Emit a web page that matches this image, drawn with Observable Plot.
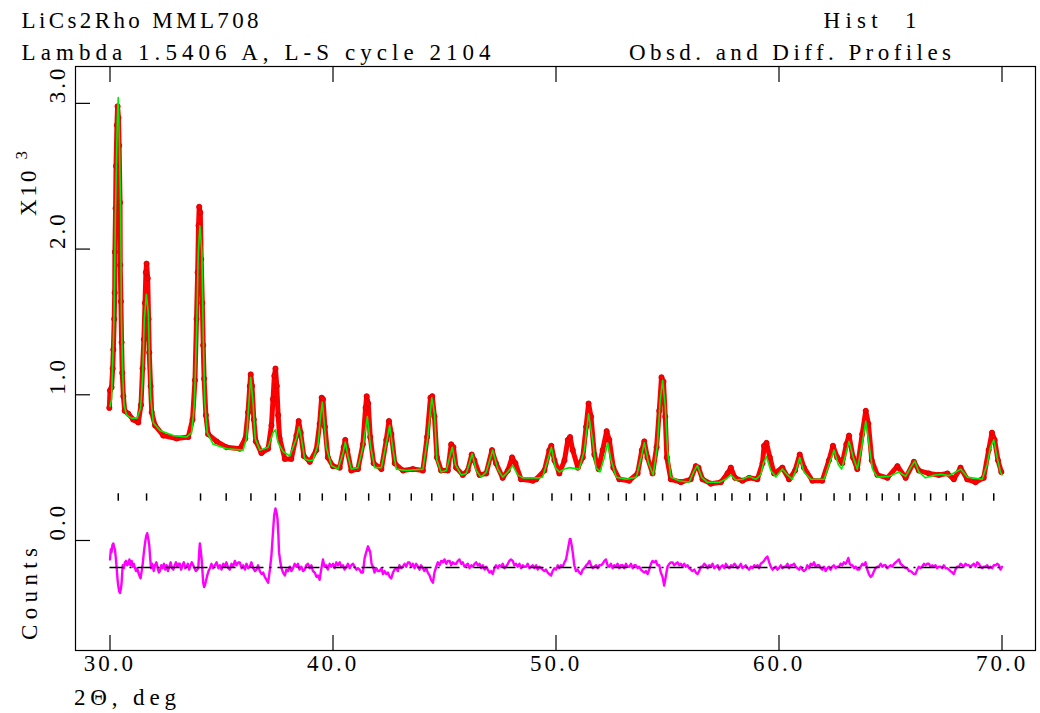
<!DOCTYPE html>
<html><head><meta charset="utf-8">
<script src="https://cdn.jsdelivr.net/npm/d3@7"></script>
<script src="https://cdn.jsdelivr.net/npm/@observablehq/plot@0.6"></script>
<style>
html,body{margin:0;padding:0;background:#fff;}
#chart svg text{letter-spacing:3px;}
</style></head><body><div id="chart"></div>
<script>
// ---- texts ----
const titleLeft = ["LiCs2Rho MML708", "Lambda 1.5406 A, L-S cycle 2104"];
const titleRight = ["Hist  1", "Obsd. and Diff. Profiles"];
const xTitle = "2\u0398, deg";
const yTitleMain = "X10";
const yTitleExp = "3";
const yTitleLow = "Counts";

// ---- axis ticks ----
const xTicks = [30, 40, 50, 60, 70];
const yTicks = [0, 1, 2, 3];

// ---- difference-curve baseline (x10^3 counts) ----
const diffBase = -0.185;

// ---- reflection positions (deg 2theta) ----
const reflections = [30.37, 31.64, 34.06, 35.21, 36.32, 37.42, 38.51, 39.52, 40.57, 41.60, 42.54, 43.51,
  44.43, 45.41, 46.27, 47.18, 48.09, 49.82, 50.69, 51.50, 52.35, 53.15, 53.97, 54.78, 55.58, 56.33,
  57.14, 57.89, 58.69, 59.46, 60.23, 60.98, 62.47, 63.18, 63.93, 64.63, 65.38, 66.09, 66.80, 67.50,
  68.25, 69.63];

// ---- calculated profile [2theta, counts x10^3] ----
const calcPts = [
 [30.00,0.92],[30.07,0.97],[30.18,1.52],[30.24,2.21],[30.33,2.90],[30.37,3.04],[30.43,2.67],[30.48,2.23],
 [30.51,1.54],[30.57,1.13],[30.63,0.93],[30.75,0.86],[30.97,0.84],[31.22,0.84],[31.37,0.91],[31.46,1.11],
 [31.54,1.52],[31.63,1.69],[31.72,1.56],[31.76,1.29],[31.82,0.99],[31.94,0.81],[32.24,0.755],[32.84,0.72],
 [33.43,0.71],[33.66,0.74],[33.78,0.93],[33.88,1.41],[33.96,1.98],[34.03,2.16],[34.12,1.98],[34.18,1.41],
 [34.25,0.95],[34.36,0.74],[34.63,0.66],[35.23,0.63],[35.97,0.62],[36.12,0.70],[36.22,0.93],[36.31,1.12],
 [36.42,0.93],[36.51,0.70],[36.72,0.62],[37.09,0.64],[37.31,0.74],[37.42,0.76],[37.54,0.67],[37.76,0.61],
 [38.06,0.58],[38.36,0.70],[38.48,0.78],[38.58,0.70],[38.73,0.56],[38.90,0.55],[39.10,0.55],[39.33,0.66],
 [39.44,0.85],[39.52,0.95],[39.60,0.82],[39.70,0.64],[39.93,0.515],[40.22,0.49],[40.45,0.60],[40.55,0.675],
 [40.67,0.58],[40.82,0.49],[41.12,0.50],[41.34,0.64],[41.54,0.85],[41.69,0.64],[41.87,0.50],[42.17,0.50],
 [42.42,0.69],[42.54,0.79],[42.69,0.62],[42.84,0.49],[43.29,0.48],[44.03,0.49],[44.25,0.71],[44.43,0.98],
 [44.55,0.87],[44.66,0.55],[44.85,0.47],[45.08,0.48],[45.23,0.57],[45.35,0.64],[45.49,0.52],[45.75,0.45],
 [45.97,0.46],[46.12,0.53],[46.24,0.595],[46.42,0.48],[46.64,0.435],[46.87,0.47],[47.16,0.62],[47.39,0.49],
 [47.61,0.435],[47.84,0.47],[48.06,0.515],[48.28,0.45],[48.51,0.43],[49.26,0.43],[49.40,0.435],[49.63,0.55],
 [49.79,0.64],[49.97,0.50],[50.15,0.47],[50.38,0.49],[50.60,0.50],[51.04,0.49],[51.27,0.62],[51.46,0.87],
 [51.64,0.69],[51.79,0.50],[51.97,0.47],[52.17,0.57],[52.32,0.67],[52.47,0.55],[52.70,0.435],[53.15,0.42],
 [53.60,0.435],[53.82,0.57],[53.96,0.67],[54.15,0.53],[54.36,0.45],[54.55,0.66],[54.67,0.96],[54.78,1.10],
 [54.90,0.92],[55.00,0.62],[55.15,0.435],[55.52,0.41],[55.97,0.40],[56.20,0.48],[56.34,0.515],[56.53,0.435],
 [56.78,0.40],[57.31,0.40],[57.61,0.42],[57.84,0.45],[58.06,0.415],[58.36,0.42],[58.66,0.44],[58.96,0.42],
 [59.18,0.45],[59.30,0.53],[59.44,0.575],[59.63,0.48],[59.86,0.435],[60.15,0.49],[60.38,0.45],[60.60,0.42],
 [60.78,0.49],[60.93,0.57],[61.12,0.47],[61.42,0.42],[62.02,0.42],[62.24,0.52],[62.47,0.62],[62.66,0.52],
 [62.81,0.49],[62.99,0.59],[63.14,0.68],[63.33,0.57],[63.51,0.49],[63.73,0.66],[63.89,0.82],[64.04,0.66],
 [64.19,0.49],[64.41,0.435],[64.94,0.44],[65.38,0.47],[65.68,0.44],[65.90,0.50],[66.09,0.545],[66.27,0.47],
 [66.57,0.43],[66.87,0.445],[67.25,0.455],[67.62,0.445],[67.92,0.47],[68.15,0.49],[68.44,0.435],[69.11,0.42],
 [69.33,0.52],[69.48,0.64],[69.63,0.69],[69.78,0.57],[69.93,0.47],[70.00,0.45]
];

// ---- observed profile [2theta, counts x10^3] ----
const obsPts = [
 [29.97,0.91],[30.00,1.03],[30.07,1.05],[30.12,1.18],[30.15,1.31],[30.19,1.52],[30.21,1.70],[30.22,1.98],
 [30.25,2.28],[30.27,2.57],[30.31,2.85],[30.34,2.98],[30.38,2.90],[30.41,2.71],[30.45,2.32],[30.46,1.89],
 [30.49,1.64],[30.52,1.36],[30.55,1.15],[30.60,0.99],[30.66,0.89],[30.82,0.87],[31.04,0.83],[31.27,0.81],
 [31.39,0.93],[31.46,1.18],[31.52,1.38],[31.57,1.63],[31.61,1.84],[31.64,1.90],[31.69,1.80],[31.73,1.52],
 [31.76,1.29],[31.82,1.06],[31.87,0.88],[32.02,0.79],[32.39,0.72],[32.99,0.70],[33.51,0.71],[33.70,0.83],
 [33.81,1.10],[33.88,1.52],[33.93,1.84],[33.97,2.16],[34.00,2.29],[34.05,2.25],[34.09,1.93],[34.14,1.63],
 [34.18,1.34],[34.22,1.11],[34.30,0.86],[34.40,0.73],[34.78,0.68],[35.23,0.64],[35.82,0.63],[36.07,0.70],
 [36.19,0.88],[36.27,1.06],[36.31,1.14],[36.37,1.06],[36.45,0.83],[36.54,0.68],[36.79,0.60],[37.09,0.63],
 [37.24,0.79],[37.31,0.97],[37.37,1.13],[37.42,1.18],[37.48,1.06],[37.54,0.86],[37.61,0.70],[37.84,0.56],
 [38.13,0.56],[38.36,0.72],[38.46,0.82],[38.55,0.74],[38.69,0.58],[38.96,0.54],[39.25,0.62],[39.40,0.80],
 [39.49,0.98],[39.55,0.97],[39.64,0.78],[39.77,0.57],[40.00,0.51],[40.30,0.50],[40.48,0.64],[40.55,0.69],
 [40.64,0.62],[40.82,0.48],[41.12,0.49],[41.34,0.66],[41.46,0.91],[41.51,0.99],[41.58,0.94],[41.67,0.71],
 [41.82,0.53],[42.17,0.49],[42.39,0.69],[42.51,0.82],[42.62,0.73],[42.77,0.53],[43.14,0.48],[43.58,0.49],
 [44.03,0.48],[44.22,0.71],[44.37,0.98],[44.45,0.99],[44.55,0.85],[44.66,0.57],[44.85,0.48],[45.15,0.48],
 [45.30,0.66],[45.40,0.64],[45.52,0.50],[45.82,0.45],[46.04,0.48],[46.22,0.59],[46.34,0.55],[46.57,0.45],
 [46.87,0.46],[47.13,0.62],[47.31,0.53],[47.61,0.43],[47.84,0.48],[48.03,0.57],[48.18,0.53],[48.43,0.42],
 [48.96,0.41],[49.11,0.42],[49.48,0.48],[49.70,0.62],[49.79,0.65],[49.93,0.55],[50.15,0.46],[50.38,0.55],
 [50.53,0.69],[50.63,0.71],[50.75,0.62],[50.98,0.50],[51.20,0.57],[51.35,0.78],[51.46,0.94],[51.57,0.85],
 [51.72,0.59],[51.91,0.49],[52.09,0.62],[52.27,0.75],[52.39,0.69],[52.57,0.50],[52.84,0.42],[53.28,0.41],
 [53.66,0.46],[53.85,0.62],[53.96,0.68],[54.10,0.57],[54.33,0.46],[54.51,0.64],[54.63,0.89],[54.73,1.12],
 [54.82,1.09],[54.90,0.85],[54.97,0.57],[55.15,0.42],[55.60,0.40],[56.04,0.42],[56.27,0.51],[56.39,0.50],
 [56.57,0.42],[56.94,0.39],[57.39,0.40],[57.69,0.46],[57.84,0.50],[58.03,0.43],[58.36,0.41],[58.66,0.43],
 [59.03,0.42],[59.26,0.53],[59.33,0.65],[59.44,0.67],[59.59,0.57],[59.78,0.46],[60.15,0.50],[60.45,0.42],
 [60.72,0.48],[60.93,0.59],[61.12,0.50],[61.50,0.41],[61.94,0.41],[62.24,0.55],[62.42,0.65],[62.61,0.57],
 [62.84,0.53],[63.02,0.66],[63.14,0.72],[63.32,0.57],[63.51,0.49],[63.73,0.73],[63.89,0.89],[64.01,0.80],
 [64.16,0.55],[64.41,0.45],[64.86,0.43],[65.31,0.51],[65.68,0.43],[66.05,0.54],[66.27,0.48],[66.72,0.46],
 [67.17,0.45],[67.55,0.46],[67.84,0.42],[68.14,0.50],[68.44,0.42],[68.81,0.40],[69.18,0.43],[69.40,0.62],
 [69.55,0.74],[69.67,0.69],[69.82,0.55],[69.97,0.47]
];

// ---- difference curve [2theta, counts x10^3] ----
const diffPts = [
 [30.00,-0.13],[30.04,-0.06],[30.07,-0.08],[30.11,-0.03],[30.15,-0.02],[30.19,-0.05],[30.22,-0.06],[30.26,-0.12],
 [30.30,-0.19],[30.34,-0.27],[30.37,-0.31],[30.41,-0.35],[30.45,-0.36],[30.49,-0.33],[30.52,-0.29],[30.57,-0.17],
 [30.62,-0.19],[30.67,-0.15],[30.72,-0.14],[30.77,-0.17],[30.82,-0.16],[30.87,-0.13],[30.92,-0.17],[30.97,-0.14],
 [31.02,-0.18],[31.07,-0.16],[31.12,-0.19],[31.17,-0.21],[31.22,-0.19],[31.27,-0.22],[31.32,-0.24],[31.37,-0.26],
 [31.42,-0.21],[31.46,-0.17],[31.52,-0.08],[31.57,-0.02],[31.62,0.03],[31.67,0.05],[31.72,0.01],[31.76,-0.03],
 [31.80,-0.12],[31.84,-0.19],[31.90,-0.16],[31.96,-0.21],[32.02,-0.17],[32.08,-0.15],[32.14,-0.19],[32.19,-0.22],
 [32.24,-0.21],[32.30,-0.17],[32.36,-0.19],[32.42,-0.16],[32.48,-0.20],[32.54,-0.17],[32.60,-0.21],[32.66,-0.18],
 [32.72,-0.15],[32.78,-0.19],[32.84,-0.20],[32.90,-0.17],[32.96,-0.15],[33.02,-0.18],[33.08,-0.16],[33.13,-0.16],
 [33.19,-0.20],[33.25,-0.17],[33.31,-0.15],[33.37,-0.19],[33.43,-0.18],[33.49,-0.16],[33.55,-0.20],[33.61,-0.17],
 [33.67,-0.15],[33.73,-0.17],[33.79,-0.19],[33.85,-0.21],[33.91,-0.20],[33.96,-0.19],[34.00,-0.08],[34.03,-0.02],
 [34.07,-0.07],[34.11,-0.13],[34.15,-0.22],[34.18,-0.29],[34.22,-0.32],[34.25,-0.31],[34.30,-0.28],[34.36,-0.24],
 [34.42,-0.21],[34.48,-0.19],[34.55,-0.16],[34.62,-0.19],[34.70,-0.17],[34.78,-0.15],[34.86,-0.19],[34.93,-0.17],
 [35.00,-0.20],[35.08,-0.16],[35.15,-0.18],[35.22,-0.15],[35.30,-0.19],[35.37,-0.20],[35.45,-0.16],[35.52,-0.18],
 [35.60,-0.14],[35.67,-0.17],[35.75,-0.15],[35.82,-0.15],[35.90,-0.19],[35.97,-0.17],[36.05,-0.20],[36.12,-0.16],
 [36.20,-0.19],[36.27,-0.18],[36.34,-0.15],[36.42,-0.19],[36.50,-0.21],[36.57,-0.20],[36.64,-0.17],[36.72,-0.21],
 [36.80,-0.23],[36.87,-0.22],[36.94,-0.25],[37.02,-0.27],[37.09,-0.29],[37.17,-0.20],[37.24,-0.10],[37.31,0.06],
 [37.36,0.17],[37.42,0.22],[37.47,0.19],[37.51,0.15],[37.55,0.04],[37.58,-0.08],[37.64,-0.15],[37.69,-0.19],
 [37.76,-0.22],[37.84,-0.24],[37.91,-0.20],[37.98,-0.21],[38.06,-0.18],[38.13,-0.21],[38.21,-0.19],[38.28,-0.16],
 [38.36,-0.18],[38.43,-0.16],[38.50,-0.20],[38.58,-0.18],[38.66,-0.21],[38.73,-0.20],[38.80,-0.17],[38.88,-0.16],
 [38.96,-0.19],[39.03,-0.17],[39.10,-0.21],[39.18,-0.22],[39.26,-0.25],[39.33,-0.24],[39.40,-0.27],[39.47,-0.20],
 [39.55,-0.13],[39.62,-0.18],[39.70,-0.17],[39.77,-0.20],[39.85,-0.16],[39.92,-0.18],[40.00,-0.16],[40.07,-0.19],
 [40.15,-0.15],[40.22,-0.17],[40.30,-0.15],[40.37,-0.18],[40.45,-0.17],[40.52,-0.20],[40.60,-0.18],[40.67,-0.16],
 [40.75,-0.19],[40.82,-0.17],[40.90,-0.16],[40.97,-0.18],[41.05,-0.20],[41.12,-0.19],[41.19,-0.20],[41.27,-0.22],
 [41.34,-0.22],[41.42,-0.12],[41.49,-0.08],[41.57,-0.04],[41.62,-0.06],[41.67,-0.08],[41.73,-0.16],[41.79,-0.18],
 [41.86,-0.22],[41.94,-0.19],[42.02,-0.21],[42.09,-0.21],[42.17,-0.19],[42.24,-0.23],[42.31,-0.21],[42.39,-0.23],
 [42.46,-0.22],[42.54,-0.25],[42.61,-0.26],[42.69,-0.22],[42.76,-0.20],[42.84,-0.19],[42.91,-0.21],[42.98,-0.17],
 [43.06,-0.19],[43.13,-0.18],[43.21,-0.16],[43.28,-0.18],[43.36,-0.15],[43.43,-0.15],[43.51,-0.18],[43.58,-0.16],
 [43.66,-0.19],[43.73,-0.16],[43.81,-0.18],[43.88,-0.20],[43.95,-0.17],[44.03,-0.19],[44.10,-0.21],[44.18,-0.19],
 [44.25,-0.22],[44.33,-0.24],[44.40,-0.27],[44.48,-0.29],[44.55,-0.22],[44.63,-0.18],[44.70,-0.15],[44.78,-0.17],
 [44.85,-0.14],[44.93,-0.15],[45.00,-0.13],[45.08,-0.16],[45.15,-0.14],[45.23,-0.14],[45.30,-0.17],[45.37,-0.15],
 [45.45,-0.16],[45.52,-0.16],[45.60,-0.14],[45.67,-0.13],[45.75,-0.16],[45.82,-0.15],[45.90,-0.18],[45.97,-0.17],
 [46.05,-0.16],[46.12,-0.19],[46.20,-0.17],[46.27,-0.18],[46.35,-0.16],[46.42,-0.15],[46.50,-0.17],[46.57,-0.16],
 [46.65,-0.19],[46.72,-0.17],[46.80,-0.20],[46.87,-0.18],[46.94,-0.20],[47.02,-0.22],[47.09,-0.21],[47.16,-0.23],
 [47.24,-0.19],[47.31,-0.17],[47.39,-0.19],[47.46,-0.17],[47.54,-0.18],[47.61,-0.16],[47.69,-0.19],[47.76,-0.18],
 [47.84,-0.16],[47.91,-0.14],[47.98,-0.13],[48.06,-0.14],[48.13,-0.17],[48.21,-0.16],[48.28,-0.18],[48.36,-0.16],
 [48.43,-0.19],[48.51,-0.17],[48.58,-0.18],[48.66,-0.18],[48.73,-0.16],[48.81,-0.19],[48.88,-0.18],[48.96,-0.17],
 [49.03,-0.19],[49.11,-0.17],[49.18,-0.20],[49.25,-0.18],[49.33,-0.19],[49.40,-0.20],[49.48,-0.21],[49.55,-0.20],
 [49.63,-0.22],[49.70,-0.23],[49.78,-0.24],[49.85,-0.21],[49.93,-0.19],[50.00,-0.20],[50.08,-0.17],[50.15,-0.19],
 [50.22,-0.17],[50.30,-0.18],[50.38,-0.15],[50.45,-0.13],[50.51,-0.08],[50.57,-0.03],[50.62,0.01],[50.65,0.01],
 [50.70,-0.03],[50.75,-0.08],[50.82,-0.17],[50.90,-0.21],[50.97,-0.20],[51.05,-0.22],[51.12,-0.23],[51.20,-0.20],
 [51.27,-0.19],[51.35,-0.17],[51.42,-0.16],[51.50,-0.14],[51.57,-0.17],[51.65,-0.19],[51.72,-0.18],[51.80,-0.17],
 [51.87,-0.19],[51.94,-0.17],[52.02,-0.17],[52.09,-0.16],[52.17,-0.14],[52.24,-0.13],[52.31,-0.17],[52.39,-0.18],
 [52.46,-0.16],[52.54,-0.19],[52.61,-0.17],[52.69,-0.18],[52.76,-0.16],[52.84,-0.19],[52.91,-0.17],[52.99,-0.17],
 [53.06,-0.19],[53.14,-0.16],[53.21,-0.18],[53.29,-0.18],[53.36,-0.16],[53.44,-0.19],[53.51,-0.17],[53.58,-0.17],
 [53.66,-0.19],[53.73,-0.18],[53.81,-0.20],[53.88,-0.21],[53.96,-0.22],[54.03,-0.21],[54.11,-0.23],[54.18,-0.20],
 [54.26,-0.16],[54.33,-0.14],[54.40,-0.15],[54.48,-0.14],[54.55,-0.17],[54.63,-0.17],[54.70,-0.22],[54.78,-0.25],
 [54.85,-0.31],[54.92,-0.25],[55.00,-0.18],[55.08,-0.16],[55.15,-0.15],[55.23,-0.15],[55.30,-0.17],[55.37,-0.16],
 [55.45,-0.15],[55.52,-0.17],[55.60,-0.16],[55.67,-0.18],[55.75,-0.16],[55.82,-0.18],[55.90,-0.17],[55.97,-0.19],
 [56.05,-0.20],[56.12,-0.21],[56.20,-0.20],[56.27,-0.22],[56.35,-0.23],[56.42,-0.21],[56.50,-0.18],[56.57,-0.18],
 [56.65,-0.16],[56.72,-0.17],[56.80,-0.19],[56.87,-0.17],[56.95,-0.18],[57.02,-0.16],[57.10,-0.19],[57.17,-0.18],
 [57.25,-0.17],[57.32,-0.20],[57.40,-0.18],[57.47,-0.17],[57.55,-0.19],[57.62,-0.16],[57.70,-0.18],[57.77,-0.19],
 [57.85,-0.17],[57.92,-0.18],[58.00,-0.16],[58.06,-0.17],[58.14,-0.19],[58.21,-0.18],[58.29,-0.16],[58.36,-0.19],
 [58.44,-0.18],[58.51,-0.17],[58.59,-0.19],[58.66,-0.20],[58.74,-0.18],[58.81,-0.19],[58.89,-0.17],[58.96,-0.18],
 [59.04,-0.17],[59.11,-0.19],[59.18,-0.16],[59.26,-0.15],[59.33,-0.14],[59.41,-0.12],[59.48,-0.11],[59.56,-0.15],
 [59.63,-0.18],[59.71,-0.20],[59.78,-0.19],[59.86,-0.18],[59.93,-0.20],[60.00,-0.19],[60.08,-0.17],[60.15,-0.19],
 [60.23,-0.18],[60.30,-0.18],[60.38,-0.16],[60.45,-0.19],[60.53,-0.17],[60.60,-0.17],[60.68,-0.16],[60.75,-0.18],
 [60.82,-0.19],[60.90,-0.20],[60.97,-0.18],[61.05,-0.20],[61.12,-0.21],[61.20,-0.20],[61.27,-0.17],[61.35,-0.19],
 [61.42,-0.16],[61.50,-0.17],[61.57,-0.15],[61.65,-0.18],[61.72,-0.17],[61.80,-0.17],[61.87,-0.19],[61.94,-0.20],
 [62.02,-0.18],[62.09,-0.21],[62.17,-0.19],[62.24,-0.18],[62.31,-0.20],[62.39,-0.18],[62.46,-0.17],[62.54,-0.19],
 [62.61,-0.18],[62.69,-0.18],[62.76,-0.16],[62.84,-0.17],[62.91,-0.15],[62.99,-0.16],[63.06,-0.14],[63.11,-0.12],
 [63.17,-0.16],[63.24,-0.17],[63.29,-0.17],[63.37,-0.19],[63.44,-0.18],[63.52,-0.20],[63.59,-0.20],[63.66,-0.18],
 [63.74,-0.16],[63.81,-0.17],[63.88,-0.15],[63.96,-0.20],[64.03,-0.23],[64.11,-0.25],[64.18,-0.24],[64.26,-0.21],
 [64.33,-0.19],[64.41,-0.18],[64.48,-0.18],[64.56,-0.16],[64.63,-0.18],[64.71,-0.17],[64.78,-0.17],[64.86,-0.19],
 [64.93,-0.18],[65.01,-0.17],[65.08,-0.18],[65.16,-0.16],[65.23,-0.15],[65.31,-0.14],[65.38,-0.13],[65.45,-0.16],
 [65.53,-0.17],[65.60,-0.18],[65.68,-0.19],[65.75,-0.19],[65.83,-0.21],[65.90,-0.21],[65.98,-0.22],[66.05,-0.23],
 [66.12,-0.23],[66.20,-0.20],[66.27,-0.18],[66.35,-0.19],[66.42,-0.18],[66.50,-0.16],[66.57,-0.17],[66.65,-0.16],
 [66.72,-0.16],[66.80,-0.18],[66.87,-0.17],[66.94,-0.18],[67.02,-0.17],[67.09,-0.19],[67.17,-0.18],[67.24,-0.18],
 [67.32,-0.19],[67.39,-0.17],[67.47,-0.19],[67.54,-0.19],[67.62,-0.20],[67.69,-0.21],[67.77,-0.22],[67.84,-0.23],
 [67.91,-0.20],[67.99,-0.18],[68.07,-0.18],[68.14,-0.16],[68.22,-0.17],[68.29,-0.18],[68.36,-0.16],[68.44,-0.17],
 [68.51,-0.17],[68.59,-0.18],[68.66,-0.17],[68.74,-0.16],[68.81,-0.18],[68.89,-0.15],[68.96,-0.16],[69.04,-0.18],
 [69.11,-0.19],[69.19,-0.18],[69.26,-0.18],[69.34,-0.17],[69.41,-0.19],[69.48,-0.18],[69.56,-0.19],[69.63,-0.17],
 [69.71,-0.17],[69.78,-0.16],[69.86,-0.17],[69.93,-0.20],[70.00,-0.18]
];

// ---- layout / style ----
const W = 1040, H = 713;
const FONT = "'Liberation Serif', 'DejaVu Serif', serif";
const reflLo = 0.27, reflHi = 0.32;

const chart = Plot.plot({
  width: W, height: H,
  marginLeft: 75, marginRight: 5, marginTop: 66, marginBottom: 63,
  x: {domain: [28.453, 71.502]},
  y: {domain: [-0.755, 3.253]},
  style: {fontFamily: FONT, fontSize: "23px", color: "#000", background: "#fff"},
  marks: [
    Plot.frame({stroke: "#000", strokeWidth: 1.2}),
    Plot.axisX(xTicks, {anchor: "bottom", tickSize: -15, tickFormat: () => "", label: null, strokeWidth: 1.2}),
    Plot.axisX(xTicks, {anchor: "top", tickSize: -15, tickFormat: () => "", label: null, strokeWidth: 1.2}),
    Plot.axisY(yTicks, {anchor: "left", tickSize: -15, tickFormat: () => "", label: null, strokeWidth: 1.2}),
    Plot.text(xTicks, {x: d => d, frameAnchor: "bottom", text: d => d.toFixed(1), dy: 20, fontSize: 23}),
    Plot.text(yTicks, {y: d => d, frameAnchor: "left", text: d => d.toFixed(1), rotate: -90, dx: -18, fontSize: 23}),
    Plot.ruleX(reflections, {x: d => d, y1: reflLo, y2: reflHi, stroke: "#000", strokeWidth: 1.5}),
    Plot.line(diffPts, {stroke: "#ff00ff", strokeWidth: 2.4}),
    Plot.ruleY([diffBase], {x1: xTicks[0], x2: xTicks[xTicks.length - 1], stroke: "#000", strokeWidth: 1.5, strokeDasharray: "14,6,2,6"}),
    Plot.line(obsPts, {stroke: "#ff0000", strokeWidth: 5}),
    Plot.dot(obsPts, {r: 2.6, fill: "#ff0000", stroke: "#cc0000", strokeWidth: 0.8}),
    Plot.line(calcPts, {stroke: "#00ee00", strokeWidth: 1.6})
  ]
});
document.getElementById("chart").appendChild(chart);

// ---- non-data text: headers and axis titles ----
const svg = d3.select(chart);
function addText(x, y, str, len, opts = {}) {
  const t = svg.append("text")
    .attr("x", x).attr("y", y)
    .attr("text-anchor", "start")
    .attr("font-family", FONT)
    .attr("font-size", opts.size || 23)
    .attr("fill", "#000")
    .style("letter-spacing", "0px")
    .style("white-space", "pre")
    .text(str);
  if (len) t.attr("textLength", len).attr("lengthAdjust", "spacing");
  if (opts.transform) t.attr("transform", opts.transform);
  return t;
}
addText(21.6, 28, titleLeft[0], 237);
addText(21.6, 60, titleLeft[1], 469);
addText(823.5, 28, titleRight[0], 93);
addText(629, 60, titleRight[1], 322);
addText(74, 705, xTitle, 102);
addText(0, 0, yTitleLow, 92, {transform: "translate(37,640) rotate(-90)"});
const yt = svg.append("text")
  .attr("transform", "translate(36,216) rotate(-90)")
  .attr("text-anchor", "start")
  .attr("font-family", FONT).attr("font-size", 23).attr("fill", "#000")
  .style("letter-spacing", "3px");
yt.append("tspan").text(yTitleMain);
yt.append("tspan").attr("dx", 8).attr("dy", -9).attr("font-size", 17).text(yTitleExp);
</script></body></html>
